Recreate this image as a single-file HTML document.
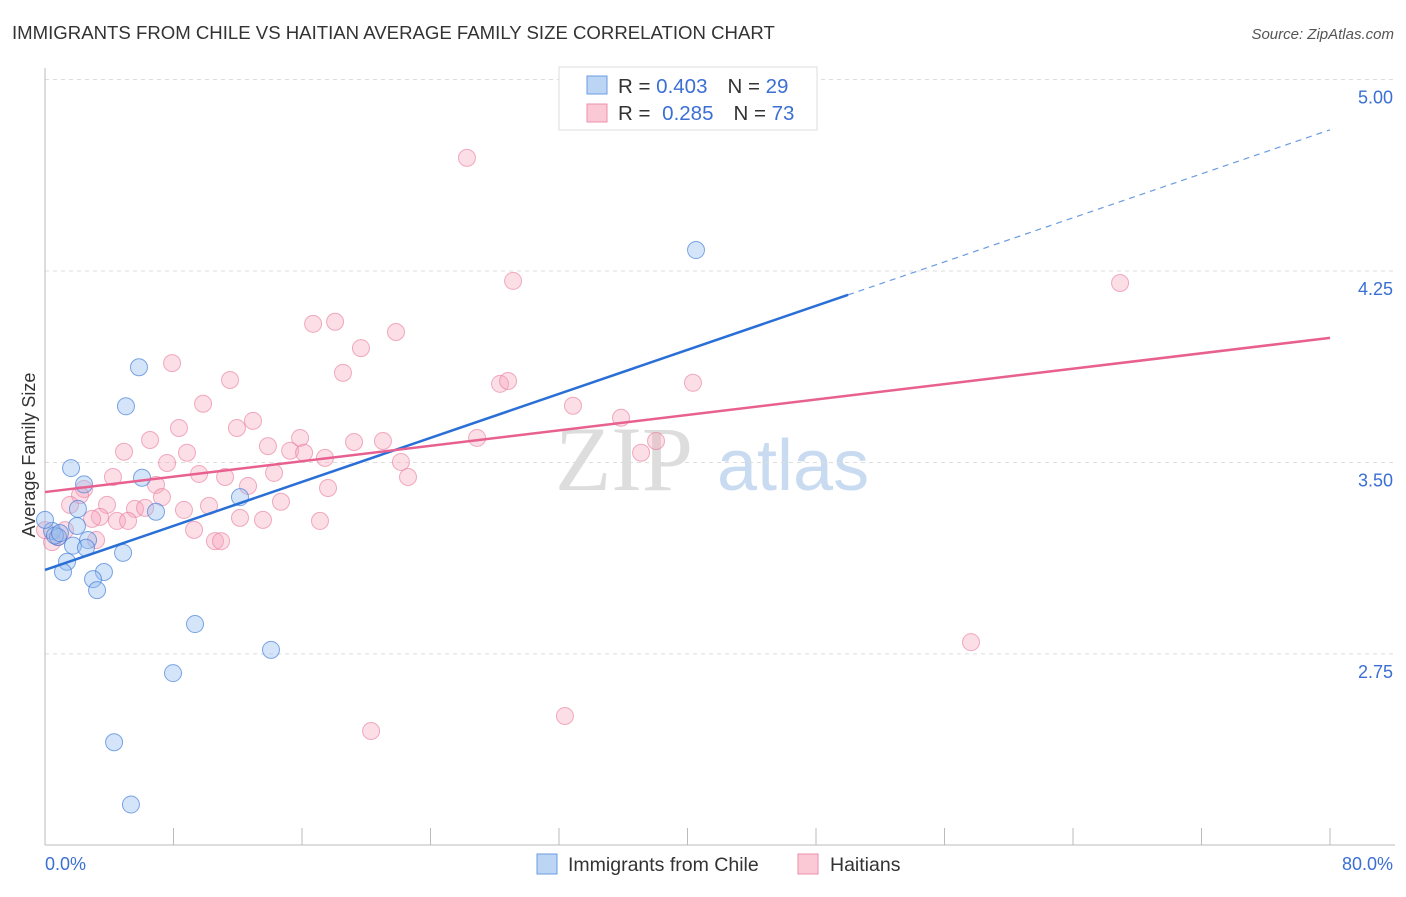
<!DOCTYPE html>
<html><head><meta charset="utf-8"><style>
body{margin:0;background:#fff;font-family:"Liberation Sans",sans-serif}
</style></head><body>
<svg id="c" width="1406" height="892" xmlns="http://www.w3.org/2000/svg">
<text x="12" y="39" font-size="18.6" fill="#333">IMMIGRANTS FROM CHILE VS HAITIAN AVERAGE FAMILY SIZE CORRELATION CHART</text>
<text x="1394" y="39" font-size="15" fill="#555" font-style="italic" text-anchor="end">Source: ZipAtlas.com</text>
<g><text x="555" y="490" font-size="92" fill="#ddd" font-family="Liberation Serif,serif">ZIP</text><text x="717" y="490" font-size="72" fill="#c9dbf0">atlas</text></g>
<g id="grid"></g>
<g id="axes"></g>
<g id="pts"></g>
<g id="trend"></g>
<text x="35" y="455" font-size="18" fill="#333" text-anchor="middle" transform="rotate(-90 35 455)">Average Family Size</text>
<text x="45" y="870" font-size="18" fill="#3b6fd4">0.0%</text>
<text x="1393" y="870" font-size="18" fill="#3b6fd4" text-anchor="end">80.0%</text>
<g>
<rect x="559" y="67" width="258" height="63" fill="#fff" stroke="#ddd"/>
<rect x="587" y="76" width="20" height="18" fill="#bcd5f5" stroke="#6a9be0"/>
<rect x="587" y="104" width="20" height="18" fill="#fbc8d6" stroke="#ec8fab"/>
<text x="618" y="93" font-size="20.5" fill="#333">R = <tspan fill="#3b6fd4">0.403</tspan><tspan dx="20">N = </tspan><tspan fill="#3b6fd4">29</tspan></text>
<text x="618" y="120" font-size="20.5" fill="#333">R = <tspan fill="#3b6fd4" dx="6">0.285</tspan><tspan dx="20">N = </tspan><tspan fill="#3b6fd4">73</tspan></text>
</g>
<g>
<rect x="537" y="854" width="20" height="20" fill="#bcd5f5" stroke="#6a9be0"/>
<text x="568" y="871" font-size="19.5" fill="#333">Immigrants from Chile</text>
<rect x="798" y="854" width="20" height="20" fill="#fbc8d6" stroke="#ec8fab"/>
<text x="830" y="871" font-size="19.5" fill="#333">Haitians</text>
</g>
</svg>
<script>
const yTicks=[2.75,3.5,4.25,5.0];
const yTickLabels=["2.75","3.50","4.25","5.00"];
const xTicks=[0,8,16,24,32,40,48,56,64,72,80];
const chileX=[5.85,5.04,1.62,2.43,6.04,2.05,6.91,12.14,1.99,0.44,0.81,2.68,1.74,2.55,4.86,1.37,1.12,3.67,2.99,3.24,9.34,14.07,7.97,4.30,5.35,40.53,0,0.62,0.93];
const chileY=[3.873,3.720,3.478,3.414,3.440,3.318,3.307,3.364,3.251,3.232,3.208,3.196,3.174,3.166,3.146,3.111,3.071,3.071,3.043,3.0,2.867,2.766,2.675,2.404,2.160,4.332,3.275,3.214,3.223];
const haitiX=[26.27,29.14,66.93,16.69,18.06,21.85,19.67,18.55,7.91,11.52,9.84,12.95,11.95,8.34,6.54,4.92,28.33,28.83,32.87,35.86,40.34,38.04,37.11,26.9,21.04,19.24,13.88,15.88,15.26,16.13,17.43,22.16,22.6,8.84,7.6,9.59,11.21,14.26,4.23,6.91,2.43,2.18,12.64,7.28,17.62,3.86,1.56,5.6,6.23,10.21,8.65,14.69,3.42,2.93,4.48,5.17,12.14,13.57,17.12,9.28,10.58,10.96,3.18,1.25,0.44,0,0.81,57.65,32.37,20.3];
const haitiY=[4.693,4.211,4.203,4.043,4.051,4.011,3.948,3.851,3.889,3.823,3.730,3.663,3.635,3.635,3.588,3.542,3.808,3.819,3.722,3.675,3.812,3.584,3.538,3.596,3.584,3.580,3.564,3.596,3.546,3.538,3.518,3.502,3.443,3.538,3.498,3.455,3.443,3.459,3.443,3.412,3.396,3.372,3.408,3.364,3.400,3.334,3.334,3.318,3.322,3.330,3.314,3.346,3.287,3.279,3.271,3.271,3.283,3.275,3.271,3.236,3.192,3.192,3.196,3.235,3.188,3.235,3.208,2.796,2.507,2.448];
const chileTrend=[3.079,4.803];
const haitiTrend=[3.384,3.988];
const NS="http://www.w3.org/2000/svg";
const X=v=>45+v*(1285/80);
const Y=v=>79.5+(5-v)*255.3;
function mk(tag,attrs,parent){const e=document.createElementNS(NS,tag);for(const k in attrs)e.setAttribute(k,attrs[k]);document.getElementById(parent).appendChild(e);return e;}
yTicks.forEach((t,i)=>{
 const l=mk('line',{x1:45,x2:1395,y1:Y(t),y2:Y(t),stroke:'#ddd','stroke-dasharray':'4,4'},'grid');
 
 
 const tx=mk('text',{x:1393,y:Y(t)+24,'font-size':18,fill:'#3b6fd4','text-anchor':'end'},'grid');
 tx.textContent=yTickLabels[i];
 
 
});
const ax=mk('line',{x1:45,x2:1395,y1:845,y2:845,stroke:'#bbb'},'axes');


const ay=mk('line',{x1:45,x2:45,y1:68,y2:845,stroke:'#bbb'},'axes');


xTicks.forEach(t=>{
 const l=mk('line',{x1:X(t),x2:X(t),y1:828,y2:845,stroke:'#bbb'},'axes');
 
 
});
haitiX.forEach((v,i)=>{
 const c=mk('circle',{cx:X(v),cy:Y(haitiY[i]),r:8.5,fill:'rgba(246,160,185,0.35)',stroke:'rgba(232,120,155,0.6)','stroke-width':1},'pts');
 
 
});
chileX.forEach((v,i)=>{
 const c=mk('circle',{cx:X(v),cy:Y(chileY[i]),r:8.5,fill:'rgba(150,190,240,0.4)',stroke:'rgba(60,120,215,0.65)','stroke-width':1},'pts');
 
 
});
const cy50=chileTrend[0]+(chileTrend[1]-chileTrend[0])*50/80;
const b1=mk('line',{x1:X(0),y1:Y(chileTrend[0]),x2:X(50),y2:Y(cy50),stroke:'#2a6fd6','stroke-width':2.5},'trend');


const b2=mk('line',{x1:X(50),y1:Y(cy50),x2:X(80),y2:Y(chileTrend[1]),stroke:'#6a9be0','stroke-width':1.2,'stroke-dasharray':'6,5'},'trend');


const p1=mk('line',{x1:X(0),y1:Y(haitiTrend[0]),x2:X(80),y2:Y(haitiTrend[1]),stroke:'#e8608f','stroke-width':2.5},'trend');


</script>
</body></html>
